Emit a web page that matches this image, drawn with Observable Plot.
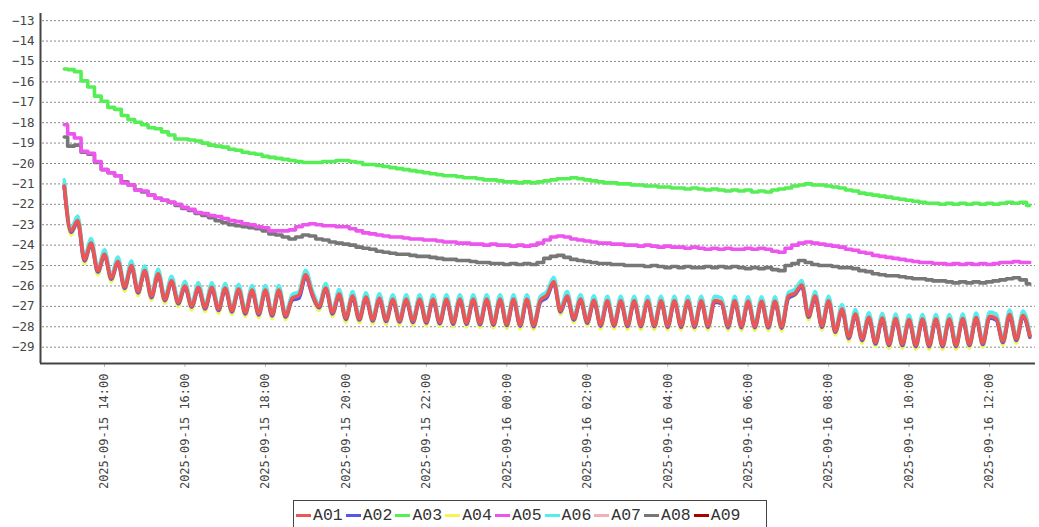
<!DOCTYPE html>
<html><head><meta charset="utf-8">
<script src="https://cdn.jsdelivr.net/npm/d3@7"></script>
<script src="https://cdn.jsdelivr.net/npm/@observablehq/plot@0.6"></script>
<style>
body{margin:0;background:#fff;}
#wrap{position:relative;width:1039px;height:527px;overflow:hidden;}
#legend{position:absolute;left:293px;top:500px;width:474px;height:30px;border:1px solid #444;box-sizing:border-box;display:flex;align-items:center;padding-left:2px;font-family:"Liberation Mono",monospace;font-size:16.5px;color:#333;background:#fff;}
#legend .it{display:flex;align-items:center;margin-right:3px;}
#legend .sw{width:15px;height:3px;margin-right:2px;}
</style></head>
<body><div id="wrap"><div id="chart"></div><div id="legend"></div></div>
<script>
const seriesNames = ["A01","A02","A03","A04","A05","A06","A07","A08","A09"];
const seriesColors = ["#ee5555","#5555e8","#55ee55","#f5f555","#ee55ee","#55eeee","#f2b0b0","#777777","#aa0000"];
const yTicks = [-13,-14,-15,-16,-17,-18,-19,-20,-21,-22,-23,-24,-25,-26,-27,-28,-29];
// 10-minute samples from 2025-09-15 13:00 to 2025-09-16 13:00
const startTime = Date.UTC(2025,8,15,13,0);
const sampleMinutes = 10;

const A01 = [-21.1,-23.3,-22.8,-24.7,-23.9,-25.25,-24.45,-25.6,-24.8,-26.05,-25.0,-26.27,-25.25,-26.5,-25.4,-26.65,-25.75,-26.8,-26.0,-26.97,-26.07,-27.05,-26.07,-27.13,-26.1,-27.2,-26.15,-27.3,-26.2,-27.35,-26.2,-27.4,-26.2,-27.45,-26.6,-26.45,-25.45,-26.4,-27.0,-26.1,-27.3,-26.4,-27.57,-26.5,-27.6,-26.55,-27.65,-26.6,-27.67,-26.65,-27.7,-26.65,-27.72,-26.65,-27.75,-26.65,-27.78,-26.65,-27.8,-26.65,-27.8,-26.65,-27.83,-26.65,-27.85,-26.65,-27.87,-26.65,-27.9,-26.65,-27.93,-26.7,-26.45,-25.8,-27.2,-26.5,-27.6,-26.65,-27.75,-26.7,-27.9,-26.73,-27.9,-26.73,-27.92,-26.73,-27.93,-26.73,-27.93,-26.73,-27.95,-26.73,-27.95,-26.73,-27.95,-26.73,-27.95,-26.73,-26.8,-27.97,-26.73,-27.97,-26.75,-27.97,-26.75,-27.98,-26.75,-28.0,-26.5,-26.35,-25.95,-27.46,-26.5,-27.95,-26.73,-28.2,-27.13,-28.5,-27.38,-28.6,-27.54,-28.77,-27.57,-28.85,-27.6,-28.85,-27.65,-28.9,-27.62,-28.9,-27.62,-28.9,-27.62,-28.9,-27.6,-28.85,-27.55,-28.8,-27.5,-27.6,-28.7,-27.4,-28.6,-27.45,-28.44];
const A02 = [-21.17,-23.37,-22.87,-24.77,-23.97,-25.32,-24.52,-25.67,-24.87,-26.12,-25.07,-26.34,-25.32,-26.57,-25.47,-26.72,-25.82,-26.87,-26.07,-27.04,-26.14,-27.12,-26.14,-27.2,-26.17,-27.27,-26.22,-27.37,-26.27,-27.42,-26.27,-27.47,-26.27,-27.52,-26.7,-26.6,-25.55,-26.47,-27.07,-26.17,-27.37,-26.47,-27.64,-26.57,-27.67,-26.62,-27.72,-26.67,-27.74,-26.72,-27.77,-26.72,-27.79,-26.72,-27.82,-26.72,-27.85,-26.72,-27.87,-26.72,-27.87,-26.72,-27.9,-26.72,-27.92,-26.72,-27.94,-26.72,-27.97,-26.72,-28.0,-26.8,-26.55,-25.87,-27.27,-26.57,-27.67,-26.72,-27.82,-26.77,-27.97,-26.8,-27.97,-26.8,-27.99,-26.8,-28.0,-26.8,-28.0,-26.8,-28.02,-26.8,-28.02,-26.8,-28.02,-26.8,-28.02,-26.8,-26.87,-28.04,-26.8,-28.04,-26.82,-28.04,-26.82,-28.05,-26.82,-28.07,-26.6,-26.42,-26.02,-27.53,-26.57,-28.02,-26.8,-28.27,-27.2,-28.57,-27.45,-28.67,-27.61,-28.84,-27.64,-28.92,-27.67,-28.92,-27.72,-28.97,-27.69,-28.97,-27.69,-28.97,-27.69,-28.97,-27.67,-28.92,-27.62,-28.87,-27.57,-27.67,-28.77,-27.47,-28.67,-27.52,-28.51];
const A03 = [-15.37,-15.4,-15.5,-15.95,-16.25,-16.7,-16.95,-17.25,-17.35,-17.65,-17.85,-17.98,-18.1,-18.25,-18.3,-18.45,-18.6,-18.8,-18.8,-18.85,-18.9,-19.0,-19.1,-19.15,-19.2,-19.3,-19.35,-19.45,-19.5,-19.55,-19.65,-19.7,-19.75,-19.8,-19.85,-19.9,-19.95,-19.95,-19.95,-19.9,-19.9,-19.85,-19.85,-19.9,-19.95,-20.05,-20.05,-20.1,-20.15,-20.2,-20.25,-20.3,-20.35,-20.4,-20.45,-20.5,-20.55,-20.6,-20.6,-20.65,-20.7,-20.7,-20.75,-20.8,-20.8,-20.85,-20.9,-20.9,-20.95,-20.9,-20.95,-20.9,-20.85,-20.8,-20.75,-20.75,-20.7,-20.75,-20.8,-20.85,-20.9,-20.95,-20.95,-21.0,-21.0,-21.05,-21.05,-21.1,-21.1,-21.15,-21.15,-21.2,-21.2,-21.25,-21.2,-21.25,-21.3,-21.25,-21.3,-21.35,-21.3,-21.35,-21.3,-21.4,-21.35,-21.4,-21.3,-21.25,-21.2,-21.1,-21.05,-21.0,-21.05,-21.05,-21.1,-21.15,-21.2,-21.3,-21.35,-21.45,-21.5,-21.55,-21.6,-21.65,-21.7,-21.75,-21.8,-21.85,-21.9,-21.95,-21.95,-22.0,-21.95,-22.0,-21.95,-22.0,-21.95,-22.0,-21.95,-22.0,-21.95,-21.9,-21.95,-21.9,-22.05];
const A04 = [-21.2,-23.5,-22.83,-24.9,-23.93,-25.45,-24.48,-25.8,-24.83,-26.25,-25.03,-26.47,-25.28,-26.7,-25.43,-26.85,-25.78,-27.0,-26.03,-27.17,-26.1,-27.25,-26.1,-27.33,-26.13,-27.4,-26.18,-27.5,-26.23,-27.55,-26.23,-27.6,-26.23,-27.65,-26.7,-26.55,-25.48,-26.5,-27.2,-26.13,-27.5,-26.43,-27.77,-26.53,-27.8,-26.58,-27.85,-26.63,-27.87,-26.68,-27.9,-26.68,-27.92,-26.68,-27.95,-26.68,-27.98,-26.68,-28.0,-26.68,-28.0,-26.68,-28.03,-26.68,-28.05,-26.68,-28.07,-26.68,-28.1,-26.68,-28.13,-26.8,-26.55,-25.83,-27.4,-26.53,-27.8,-26.68,-27.95,-26.73,-28.1,-26.76,-28.1,-26.76,-28.12,-26.76,-28.13,-26.76,-28.13,-26.76,-28.15,-26.76,-28.15,-26.76,-28.15,-26.76,-28.15,-26.76,-26.83,-28.17,-26.76,-28.17,-26.78,-28.17,-26.78,-28.18,-26.78,-28.2,-26.6,-26.45,-25.98,-27.66,-26.53,-28.15,-26.76,-28.4,-27.16,-28.7,-27.41,-28.8,-27.57,-28.97,-27.6,-29.05,-27.63,-29.05,-27.68,-29.1,-27.65,-29.1,-27.65,-29.1,-27.65,-29.1,-27.63,-29.05,-27.58,-29.0,-27.53,-27.63,-28.9,-27.43,-28.8,-27.48,-28.54];
const A05 = [-18.1,-18.55,-18.75,-19.4,-19.5,-19.9,-20.3,-20.45,-20.6,-20.95,-21.05,-21.3,-21.35,-21.55,-21.7,-21.8,-21.9,-22.0,-22.15,-22.25,-22.4,-22.45,-22.55,-22.6,-22.7,-22.8,-22.85,-22.95,-23.0,-23.1,-23.15,-23.3,-23.3,-23.3,-23.25,-23.1,-23.0,-22.95,-23.0,-23.05,-23.05,-23.1,-23.1,-23.2,-23.3,-23.4,-23.45,-23.5,-23.55,-23.6,-23.6,-23.65,-23.7,-23.7,-23.75,-23.75,-23.8,-23.85,-23.85,-23.9,-23.9,-23.95,-23.95,-24.0,-23.95,-24.0,-24.0,-24.05,-24.0,-24.05,-24.0,-23.9,-23.75,-23.6,-23.55,-23.6,-23.7,-23.75,-23.8,-23.85,-23.9,-23.9,-23.95,-23.95,-24.0,-24.0,-24.05,-24.0,-24.05,-24.1,-24.05,-24.1,-24.1,-24.15,-24.1,-24.15,-24.2,-24.15,-24.2,-24.15,-24.2,-24.2,-24.15,-24.2,-24.15,-24.2,-24.3,-24.35,-24.15,-24.0,-23.9,-23.85,-23.9,-23.95,-24.0,-24.05,-24.1,-24.2,-24.25,-24.35,-24.4,-24.5,-24.55,-24.6,-24.65,-24.7,-24.75,-24.8,-24.85,-24.85,-24.9,-24.9,-24.95,-24.9,-24.95,-24.9,-24.95,-24.9,-24.95,-24.9,-24.85,-24.85,-24.8,-24.85,-24.85];
const A06 = [-20.8,-23.18,-22.58,-24.58,-23.68,-25.13,-24.23,-25.48,-24.58,-25.93,-24.78,-26.15,-25.03,-26.38,-25.18,-26.53,-25.53,-26.68,-25.78,-26.85,-25.85,-26.93,-25.85,-27.01,-25.88,-27.08,-25.93,-27.18,-25.98,-27.23,-25.98,-27.28,-25.98,-27.33,-26.42,-26.27,-25.23,-26.22,-26.88,-25.88,-27.18,-26.18,-27.45,-26.28,-27.48,-26.33,-27.53,-26.38,-27.55,-26.43,-27.58,-26.43,-27.6,-26.43,-27.63,-26.43,-27.66,-26.43,-27.68,-26.43,-27.68,-26.43,-27.71,-26.43,-27.73,-26.43,-27.75,-26.43,-27.78,-26.43,-27.81,-26.52,-26.27,-25.58,-27.08,-26.28,-27.48,-26.43,-27.63,-26.48,-27.78,-26.51,-27.78,-26.51,-27.8,-26.51,-27.81,-26.51,-27.81,-26.51,-27.83,-26.51,-27.83,-26.51,-27.83,-26.51,-27.83,-26.51,-26.58,-27.85,-26.51,-27.85,-26.53,-27.85,-26.53,-27.86,-26.53,-27.88,-26.32,-26.17,-25.73,-27.34,-26.28,-27.83,-26.51,-28.08,-26.91,-28.38,-27.16,-28.48,-27.32,-28.65,-27.35,-28.73,-27.38,-28.73,-27.43,-28.78,-27.4,-28.78,-27.4,-28.78,-27.4,-28.78,-27.38,-28.73,-27.33,-28.68,-27.28,-27.38,-28.58,-27.18,-28.48,-27.23,-28.26];
const A07 = [-21.0,-23.25,-22.65,-24.65,-23.75,-25.2,-24.3,-25.55,-24.65,-26.0,-24.85,-26.22,-25.1,-26.45,-25.25,-26.6,-25.6,-26.75,-25.85,-26.92,-25.92,-27.0,-25.92,-27.08,-25.95,-27.15,-26.0,-27.25,-26.05,-27.3,-26.05,-27.35,-26.05,-27.4,-26.5,-26.35,-25.3,-26.3,-26.95,-25.95,-27.25,-26.25,-27.52,-26.35,-27.55,-26.4,-27.6,-26.45,-27.62,-26.5,-27.65,-26.5,-27.67,-26.5,-27.7,-26.5,-27.73,-26.5,-27.75,-26.5,-27.75,-26.5,-27.78,-26.5,-27.8,-26.5,-27.82,-26.5,-27.85,-26.5,-27.88,-26.6,-26.35,-25.65,-27.15,-26.35,-27.55,-26.5,-27.7,-26.55,-27.85,-26.58,-27.85,-26.58,-27.87,-26.58,-27.88,-26.58,-27.88,-26.58,-27.9,-26.58,-27.9,-26.58,-27.9,-26.58,-27.9,-26.58,-26.65,-27.92,-26.58,-27.92,-26.6,-27.92,-26.6,-27.93,-26.6,-27.95,-26.4,-26.25,-25.8,-27.41,-26.35,-27.9,-26.58,-28.15,-26.98,-28.45,-27.23,-28.55,-27.39,-28.72,-27.42,-28.8,-27.45,-28.8,-27.5,-28.85,-27.47,-28.85,-27.47,-28.85,-27.47,-28.85,-27.45,-28.8,-27.4,-28.75,-27.35,-27.45,-28.65,-27.25,-28.55,-27.3,-28.34];
const A08 = [-18.7,-19.15,-19.1,-19.45,-19.55,-19.95,-20.3,-20.45,-20.6,-20.9,-21.05,-21.3,-21.4,-21.55,-21.7,-21.8,-21.9,-22.05,-22.2,-22.3,-22.45,-22.55,-22.65,-22.8,-22.9,-23.0,-23.05,-23.1,-23.15,-23.2,-23.3,-23.45,-23.5,-23.6,-23.7,-23.6,-23.5,-23.55,-23.7,-23.75,-23.85,-23.9,-23.95,-24.0,-24.1,-24.15,-24.2,-24.3,-24.35,-24.4,-24.45,-24.45,-24.5,-24.55,-24.55,-24.6,-24.65,-24.7,-24.7,-24.75,-24.75,-24.8,-24.85,-24.85,-24.9,-24.9,-24.95,-24.9,-24.95,-24.9,-24.95,-24.85,-24.65,-24.55,-24.5,-24.6,-24.7,-24.75,-24.8,-24.85,-24.9,-24.9,-24.95,-24.95,-25.0,-25.0,-25.0,-25.05,-25.0,-25.05,-25.1,-25.05,-25.1,-25.05,-25.1,-25.1,-25.05,-25.1,-25.05,-25.1,-25.05,-25.1,-25.15,-25.1,-25.15,-25.1,-25.2,-25.25,-25.0,-24.9,-24.75,-24.85,-24.95,-25.0,-25.0,-25.05,-25.1,-25.1,-25.15,-25.25,-25.3,-25.4,-25.45,-25.5,-25.5,-25.55,-25.6,-25.65,-25.65,-25.7,-25.75,-25.75,-25.8,-25.85,-25.8,-25.85,-25.8,-25.85,-25.8,-25.75,-25.7,-25.65,-25.6,-25.7,-25.9];
const A09 = [-21.1,-23.3,-22.77,-24.7,-23.87,-25.25,-24.42,-25.6,-24.77,-26.05,-24.97,-26.27,-25.22,-26.5,-25.37,-26.65,-25.72,-26.8,-25.97,-26.97,-26.04,-27.05,-26.04,-27.13,-26.07,-27.2,-26.12,-27.3,-26.17,-27.35,-26.17,-27.4,-26.17,-27.45,-26.6,-26.45,-25.42,-26.4,-27.0,-26.07,-27.3,-26.37,-27.57,-26.47,-27.6,-26.52,-27.65,-26.57,-27.67,-26.62,-27.7,-26.62,-27.72,-26.62,-27.75,-26.62,-27.78,-26.62,-27.8,-26.62,-27.8,-26.62,-27.83,-26.62,-27.85,-26.62,-27.87,-26.62,-27.9,-26.62,-27.93,-26.7,-26.45,-25.77,-27.2,-26.47,-27.6,-26.62,-27.75,-26.67,-27.9,-26.7,-27.9,-26.7,-27.92,-26.7,-27.93,-26.7,-27.93,-26.7,-27.95,-26.7,-27.95,-26.7,-27.95,-26.7,-27.95,-26.7,-26.77,-27.97,-26.7,-27.97,-26.72,-27.97,-26.72,-27.98,-26.72,-28.0,-26.5,-26.35,-25.92,-27.46,-26.47,-27.95,-26.7,-28.2,-27.1,-28.5,-27.35,-28.6,-27.51,-28.77,-27.54,-28.85,-27.57,-28.85,-27.62,-28.9,-27.59,-28.9,-27.59,-28.9,-27.59,-28.9,-27.57,-28.85,-27.52,-28.8,-27.47,-27.57,-28.7,-27.37,-28.6,-27.42,-28.44];

const seriesValues = {A01,A02,A03,A04,A05,A06,A07,A08,A09};
const stepSeries = new Set(["A03","A05","A08"]);

const xDomain = [new Date(Date.UTC(2025,8,15,12,24,30)), new Date(Date.UTC(2025,8,16,13,8,35))];
const yDomain = [-29.8, -12.65];
const xTicks = d3.utcHour.every(2).range(new Date(Date.UTC(2025,8,15,14,0)), new Date(Date.UTC(2025,8,16,12,1)));
const fmt = d3.utcFormat("%Y-%m-%d %H:%M");

const colorOf = Object.fromEntries(seriesNames.map((n,i)=>[n, seriesColors[i]]));
function rows(name){
  return seriesValues[name].map((v,i)=>({t:new Date(startTime + i*sampleMinutes*60000), v, s:name}));
}

const lineMarks = seriesNames.slice().reverse().map(name =>
  Plot.line(rows(name), {x:"t", y:"v", stroke: colorOf[name], strokeWidth: 3.6,
    curve: stepSeries.has(name) ? "step" : "monotone-x", strokeLinejoin:"round"})
);

const chart = Plot.plot({
  width: 1039, height: 497,
  marginLeft: 40, marginRight: 4, marginTop: 13, marginBottom: 134,
  style: {fontFamily: "'DejaVu Sans Mono', monospace", fontSize: "12px", background: "#fff"},
  x: {type: "utc", domain: xDomain},
  y: {domain: yDomain},
  marks: [
    Plot.ruleY(yTicks, {stroke: "#8a8a8a", strokeDasharray: "2,2", strokeWidth: 1, insetLeft: 2}),
    ...lineMarks,
    Plot.axisY({ticks: yTicks, tickSize: 0, tickPadding: 6, tickFormat: d => "\u2212" + Math.abs(d), fill: "#444", fontSize: 12.5, label: null}),
    Plot.axisX({ticks: xTicks, tickSize: 4, tickPadding: 6, tickRotate: -90, tickFormat: fmt, stroke: "#bbb", fill: "#444", fontSize: 12, label: null}),
    Plot.ruleX([xDomain[0]], {stroke: "#444", strokeWidth: 2}),
    Plot.ruleY([yDomain[0]], {stroke: "#444", strokeWidth: 2})
  ]
});
document.getElementById("chart").appendChild(chart);

const leg = document.getElementById("legend");
seriesNames.forEach((n,i) => {
  const it = document.createElement("div"); it.className = "it";
  const sw = document.createElement("div"); sw.className = "sw"; sw.style.background = seriesColors[i];
  const tx = document.createElement("span"); tx.textContent = n;
  it.appendChild(sw); it.appendChild(tx); leg.appendChild(it);
});
</script></body></html>
